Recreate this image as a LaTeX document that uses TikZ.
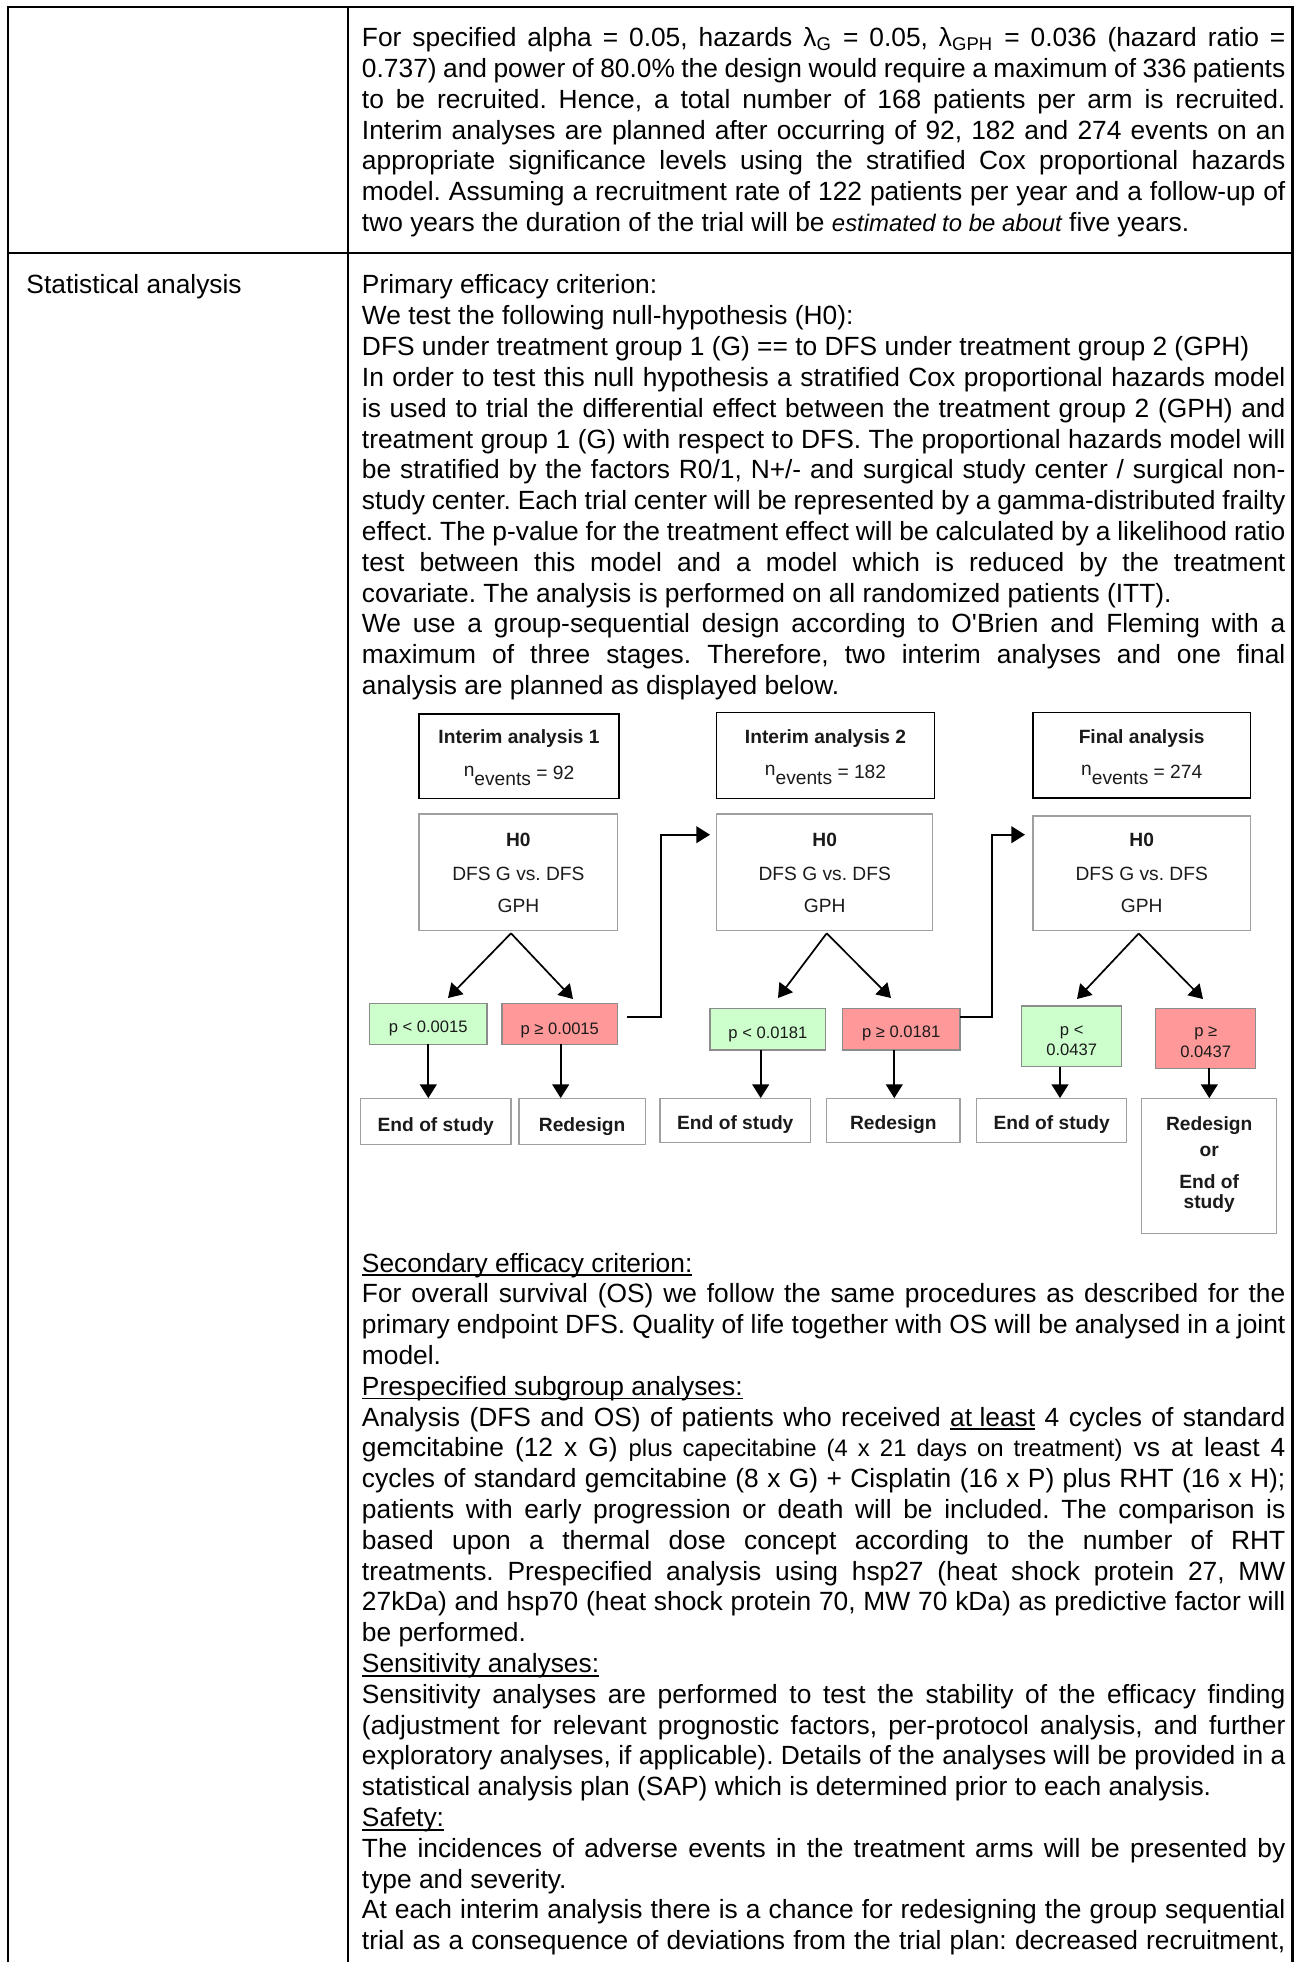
\documentclass[tikz,border=0pt]{standalone}
\usepackage{fontspec}
\setmainfont{Liberation Sans}
\newfontfamily\bodyface{Liberation Sans}
\usetikzlibrary{arrows.meta,fit}

\definecolor{okfill}{HTML}{CCFFCC}
\definecolor{nofill}{HTML}{FF9999}
\definecolor{boxgray}{HTML}{A0A0A0}
\definecolor{pgray}{HTML}{8C8C8C}
\definecolor{ink}{HTML}{1A1A1A}

\frenchspacing
% width of the text column
\newlength\tw
\setlength\tw{378.6pt}
% one justified line / one ragged line of a paragraph
\newcommand\jline[1]{\makebox[\tw][s]{#1}\par}
\newcommand\lline[1]{\makebox[\tw][l]{#1}\par}
% underlined words
\newsavebox\ulsave
\newcommand\ulword[1]{\sbox\ulsave{#1}\rlap{\rule[-0.16em]{\wd\ulsave}{0.07em}}\usebox\ulsave}
\newcommand\bodyfont{\bodyface\fontsize{10.8pt}{12.63pt}\selectfont\frenchspacing}
\newcommand\smallbody{\fontsize{9.8pt}{12pt}\selectfont}

\tikzset{
  rulex/.style={line width=0.95pt, black},
  para/.style={anchor=base west, inner sep=0pt},
  iabox/.style={draw=black, line width=0.5pt, inner sep=0pt},
  hbox/.style={draw=boxgray, line width=0.5pt, inner sep=0pt},
  okbox/.style={draw=pgray, fill=okfill, line width=0.5pt, inner sep=0pt},
  nobox/.style={draw=pgray, fill=nofill, line width=0.5pt, inner sep=0pt},
  lbl/.style={anchor=base, inner sep=0pt, text=ink, font=\fontsize{7.87pt}{9pt}\selectfont},
  lblb/.style={anchor=base, inner sep=0pt, text=ink, font=\fontsize{7.87pt}{9pt}\selectfont\bfseries},
  plbl/.style={anchor=base, inner sep=0pt, text=ink, font=\fontsize{6.8pt}{8pt}\selectfont},
  arr/.style={-{Triangle[width=6.85pt,length=5.6pt]}, line width=0.7pt, black},
}

\begin{document}
\begin{tikzpicture}[x=0.41pt,y=-0.41pt]
\useasboundingbox (0,0) rectangle (1294,1962);

% table frame
\draw[rulex] (7.8,1962) -- (7.8,7) -- (1292.5,7) -- (1292.5,1962);
\draw[rulex] (347.8,7) -- (347.8,1962);
\draw[rulex] (7.8,252.8) -- (1292.5,252.8);

% upper cell
\node[para] (sample) at (361.5,46.7) {\parbox[t]{\tw}{\bodyfont
\jline{For specified alpha = 0.05, hazards λ\textsubscript{G} = 0.05, λ\textsubscript{GPH} = 0.036 (hazard ratio =}
\jline{0.737) and power of 80.0\% the design would require a maximum of 336 patients}
\jline{to be recruited. Hence, a total number of 168 patients per arm is recruited.}
\jline{Interim analyses are planned after occurring of 92, 182 and 274 events on an}
\jline{appropriate significance levels using the stratified Cox proportional hazards}
\jline{model. Assuming a recruitment rate of 122 patients per year and a follow-up of}
\lline{two years the duration of the trial will be {\smallbody\itshape estimated to be about} five years.}
}};

% lower cell, heading
\node[para] (head) at (26,294) {\bodyfont Statistical analysis};

% lower cell, primary criterion
\node[para] (primary) at (361.5,294) {\parbox[t]{\tw}{\bodyfont
\lline{Primary efficacy criterion:}
\lline{We test the following null-hypothesis (H0):}
\lline{DFS under treatment group 1 (G) == to DFS under treatment group 2 (GPH)}
\jline{In order to test this null hypothesis a stratified Cox proportional hazards model}
\jline{is used to trial the differential effect between the treatment group 2 (GPH) and}
\jline{treatment group 1 (G) with respect to DFS. The proportional hazards model will}
\jline{be stratified by the factors R0/1, N+/- and surgical study center / surgical non-}
\jline{study center. Each trial center will be represented by a gamma-distributed frailty}
\jline{effect. The p-value for the treatment effect will be calculated by a likelihood ratio}
\jline{test between this model and a model which is reduced by the treatment}
\lline{covariate. The analysis is performed on all randomized patients (ITT).}
\jline{We use a group-sequential design according to O'Brien and Fleming with a}
\jline{maximum of three stages. Therefore, two interim analyses and one final}
\lline{analysis are planned as displayed below.}
}};

% ---------- group-sequential scheme ----------
% stage headers
\node[iabox, fit={(419,714) (619,798.7)}] (ia1) {};
\node[iabox, fit={(716.7,712.3) (934.3,798.7)}] (ia2) {};
\node[iabox, fit={(1033,712.5) (1250.4,798)}] (fin) {};
\node[lblb] (ia1t) at (519,743.5) {Interim analysis 1};
\node[lblb] (ia2t) at (825.5,743) {Interim analysis 2};
\node[lblb] (fint) at (1141.7,743) {Final analysis};
\node[lbl] (ia1n) at (519,779) {\raisebox{1.1pt}{n}\raisebox{-2.8pt}{events} = 92};
\node[lbl] (ia2n) at (825.5,778) {\raisebox{1.1pt}{n}\raisebox{-2.8pt}{events} = 182};
\node[lbl] (finn) at (1141.7,778) {\raisebox{1.1pt}{n}\raisebox{-2.8pt}{events} = 274};

% hypothesis boxes
\node[hbox, fit={(419,814) (617.7,930.7)}] (h1) {};
\node[hbox, fit={(716.7,814) (932.7,930.7)}] (h2) {};
\node[hbox, fit={(1033,816) (1250.4,930.7)}] (h3) {};
\foreach \n/\x in {h1/518.4, h2/824.7, h3/1141.7}{
  \node[lblb] (\n a) at (\x,846) {H0};
  \node[lbl] (\n b) at (\x,880) {DFS G vs. DFS};
  \node[lbl] (\n c) at (\x,912) {GPH};
}

% decision boxes
\node[okbox, fit={(369.3,1003.3) (487,1044.3)}] (g1) {};
\node[nobox, fit={(502,1003.3) (617.7,1044.3)}] (r1) {};
\node[okbox, fit={(710,1008.3) (825.7,1050)}] (g2) {};
\node[nobox, fit={(842.3,1008.3) (960,1050)}] (r2) {};
\node[okbox, fit={(1021.7,1006) (1121.7,1066.7)}] (g3) {};
\node[nobox, fit={(1155.7,1008.3) (1255.7,1068.3)}] (r3) {};
\node[plbl] (g1t) at (428.2,1032.3) {p < 0.0015};
\node[plbl] (r1t) at (559.8,1034) {p ≥ 0.0015};
\node[plbl] (g2t) at (767.9,1038.5) {p < 0.0181};
\node[plbl] (r2t) at (901.2,1037) {p ≥ 0.0181};
\node[plbl] (g3t) at (1071.7,1035) {p <};
\node[plbl] (g3u) at (1071.7,1055.7) {0.0437};
\node[plbl] (r3t) at (1205.7,1036.5) {p ≥};
\node[plbl] (r3u) at (1205.7,1057.7) {0.0437};

% outcome boxes
\node[hbox, fit={(360.7,1098.7) (511,1144.3)}] (e1) {};
\node[hbox, fit={(519,1098.7) (645.3,1144.3)}] (d1) {};
\node[hbox, fit={(660,1098.7) (810.7,1142.7)}] (e2) {};
\node[hbox, fit={(826.7,1098.7) (960,1142.7)}] (d2) {};
\node[hbox, fit={(976.7,1098.7) (1126.7,1142.7)}] (e3) {};
\node[hbox, fit={(1141.7,1098.7) (1276.7,1233.3)}] (x3) {};
\node[lblb] (e1t) at (435.8,1131.7) {End of study};
\node[lblb] (d1t) at (582.1,1131.7) {Redesign};
\node[lblb] (e2t) at (735.3,1129.3) {End of study};
\node[lblb] (d2t) at (893.3,1129.3) {Redesign};
\node[lblb] (e3t) at (1051.7,1129.3) {End of study};
\node[lblb] (x3a) at (1209.2,1130) {Redesign};
\node[lblb] (x3b) at (1209.2,1156.7) {or};
\node[lblb] (x3c) at (1209.2,1188.3) {End of};
\node[lblb] (x3d) at (1209.2,1208.3) {study};

% branching arrows below each hypothesis box
\coordinate (ap1) at (511,933.3);
\coordinate (ap2) at (826.7,933.3);
\coordinate (ap3) at (1138.7,933.5);
\coordinate (tg1) at (448,998);
\coordinate (tr1) at (573,999);
\coordinate (tg2) at (778,998);
\coordinate (tr2) at (891,998);
\coordinate (tg3) at (1077,999);
\coordinate (tr3) at (1203,999);
\draw[arr] (ap1) -- (tg1);
\draw[arr] (ap1) -- (tr1);
\draw[arr] (ap2) -- (tg2);
\draw[arr] (ap2) -- (tr2);
\draw[arr] (ap3) -- (tg3);
\draw[arr] (ap3) -- (tr3);

% decision -> outcome
\coordinate (sg1) at (428.3,1044.3);
\coordinate (sr1) at (560.7,1044.3);
\coordinate (sg2) at (760.7,1050);
\coordinate (sr2) at (894.3,1050);
\coordinate (sg3) at (1060,1066.7);
\coordinate (sr3) at (1209.3,1068.3);
\draw[arr] (sg1) -- (sg1 |- e1.north);
\draw[arr] (sr1) -- (sr1 |- d1.north);
\draw[arr] (sg2) -- (sg2 |- e2.north);
\draw[arr] (sr2) -- (sr2 |- d2.north);
\draw[arr] (sg3) -- (sg3 |- e3.north);
\draw[arr] (sr3) -- (sr3 |- x3.north);

% continuation to the next stage
\coordinate (c1) at (627.3,1016.7);
\coordinate (k1) at (710,834.7);
\coordinate (c2) at (960,1016.7);
\coordinate (k2) at (1025,834.7);
\draw[arr] (c1) -- ++(33.4,0) |- (k1);
\draw[arr] (c2) -- ++(31.7,0) |- (k2);

% lower cell, remaining criteria
\node[para] (rest) at (361.5,1272) {\parbox[t]{\tw}{\bodyfont
\lline{\ulword{Secondary efficacy criterion:}}
\jline{For overall survival (OS) we follow the same procedures as described for the}
\jline{primary endpoint DFS. Quality of life together with OS will be analysed in a joint}
\lline{model.}
\lline{\ulword{Prespecified subgroup analyses:}}
\jline{Analysis (DFS and OS) of patients who received \ulword{at least} 4 cycles of standard}
\jline{gemcitabine (12 x G) {\smallbody plus capecitabine (4 x 21 days on treatment)} vs at least 4}
\jline{cycles of standard gemcitabine (8 x G) + Cisplatin (16 x P) plus RHT (16 x H);}
\jline{patients with early progression or death will be included. The comparison is}
\jline{based upon a thermal dose concept according to the number of RHT}
\jline{treatments. Prespecified analysis using hsp27 (heat shock protein 27, MW}
\jline{27kDa) and hsp70 (heat shock protein 70, MW 70 kDa) as predictive factor will}
\lline{be performed.}
\lline{\ulword{Sensitivity analyses:}}
\jline{Sensitivity analyses are performed to test the stability of the efficacy finding}
\jline{(adjustment for relevant prognostic factors, per-protocol analysis, and further}
\jline{exploratory analyses, if applicable). Details of the analyses will be provided in a}
\lline{statistical analysis plan (SAP) which is determined prior to each analysis.}
\lline{\ulword{Safety:}}
\jline{The incidences of adverse events in the treatment arms will be presented by}
\lline{type and severity.}
\jline{At each interim analysis there is a chance for redesigning the group sequential}
\jline{trial as a consequence of deviations from the trial plan: decreased recruitment,}
}};
\end{tikzpicture}
\end{document}
